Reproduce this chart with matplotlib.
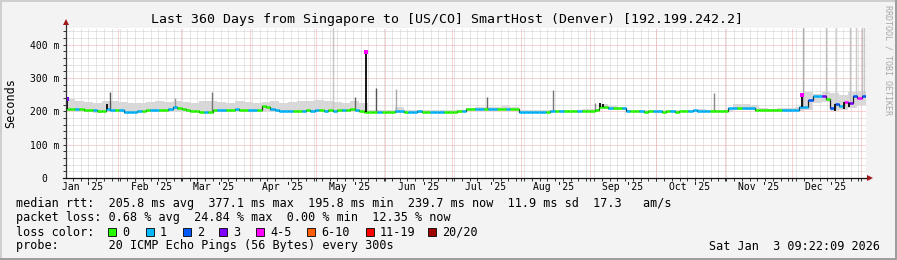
"""
Smokeping style latency chart, Singapore -> Denver, last 360 days
"""
import datetime as dt
import matplotlib
matplotlib.use('Agg')
import matplotlib.pyplot as plt
from matplotlib.patches import Rectangle
import numpy as np

# DATA
#####################
START = dt.datetime(2025, 1, 8, 9, 22, 9)
SPAN_DAYS = 360
MED_STEP = 2      # days per median sample
SMOKE_STEP = 4    # days per smoke sample

# median rtt (ms), one value every 2 days
median_ms = [
    207, 206, 206, 206, 205, 205, 203, 200, 202, 206,
    205, 204, 203, 199, 198, 199, 200, 202, 203, 203,
    204, 204, 205, 208, 212, 210, 206, 205, 201, 200,
    199, 198, 199, 205, 205, 205, 204, 205, 206, 205,
    205, 204, 205, 204, 216, 213, 208, 203, 201, 200,
    200, 200, 201, 202, 203, 201, 203, 205, 201, 203,
    202, 204, 205, 203, 206, 204, 202, 199, 198, 198,
    198, 199, 198, 199, 200, 200, 199, 199, 199, 200,
    199, 199, 198, 199, 199, 198, 199, 199, 200, 201,
    206, 207, 207, 208, 207, 208, 207, 207, 206, 207,
    206, 207, 199, 198, 198, 197, 198, 198, 199, 200,
    200, 201, 200, 201, 200, 200, 201, 200, 201, 203,
    214, 212, 209, 209, 209, 209, 201, 201, 200, 200,
    198, 201, 201, 200, 199, 200, 200, 199, 201, 200,
    201, 203, 200, 200, 200, 200, 201, 200, 200, 209,
    209, 210, 209, 209, 209, 203, 203, 203, 203, 203,
    203, 204, 205, 205, 205, 213, 213, 235, 245, 246,
    245, 238, 210, 222, 215, 228, 226, 246, 240, 247,
]
# loss class index of each median sample (index into loss_labels)
median_loss = [
    0, 0, 1, 0, 0, 0, 1, 0, 0, 1,
    1, 0, 1, 1, 1, 1, 1, 0, 0, 1,
    1, 0, 0, 1, 1, 0, 0, 0, 0, 0,
    0, 1, 0, 0, 1, 1, 0, 0, 1, 0,
    0, 1, 1, 0, 0, 0, 1, 1, 1, 1,
    1, 0, 0, 1, 0, 1, 1, 0, 1, 0,
    1, 0, 1, 0, 0, 1, 0, 0, 0, 0,
    1, 0, 0, 0, 1, 1, 0, 1, 1, 1,
    0, 0, 1, 1, 1, 0, 0, 0, 0, 1,
    0, 0, 1, 1, 0, 1, 1, 0, 0, 1,
    0, 0, 1, 1, 1, 1, 1, 1, 0, 1,
    0, 1, 0, 0, 0, 1, 0, 0, 0, 0,
    0, 0, 1, 0, 0, 1, 1, 0, 0, 1,
    0, 0, 1, 1, 0, 0, 1, 0, 0, 0,
    1, 1, 1, 1, 1, 0, 0, 0, 0, 1,
    1, 0, 1, 1, 1, 0, 0, 0, 0, 0,
    0, 1, 1, 1, 1, 1, 1, 2, 1, 1,
    3, 0, 2, 2, 1, 4, 3, 2, 4, 2,
]

# ping spread ("smoke"), one value every 4 days
smoke_hi_ms = [
    238, 230, 228, 225, 232, 230, 228, 226, 225, 228,
    230, 227, 230, 228, 226, 230, 232, 228, 226, 230,
    228, 225, 228, 230, 226, 228, 232, 230, 234, 230,
    228, 226, 232, 224, 203, 203, 205, 212, 204, 203,
    204, 203, 204, 203, 204, 210, 212, 213, 212, 215,
    212, 205, 203, 203, 204, 205, 204, 205, 206, 208,
    222, 215, 213, 205, 204, 204, 205, 204, 204, 205,
    205, 206, 204, 204, 205, 222, 223, 220, 210, 208,
    209, 210, 212, 258, 252, 258, 255, 250, 258, 262,
]
smoke_lo_ms = [
    200, 199, 198, 196, 197, 198, 199, 198, 198, 199,
    199, 198, 199, 198, 199, 200, 199, 198, 197, 199,
    198, 198, 199, 199, 198, 198, 199, 199, 198, 198,
    199, 198, 198, 197, 196, 196, 196, 196, 196, 196,
    196, 196, 196, 196, 197, 203, 204, 204, 203, 203,
    203, 196, 195, 196, 197, 197, 197, 197, 197, 198,
    206, 205, 205, 197, 197, 197, 196, 197, 197, 197,
    197, 197, 197, 197, 197, 205, 205, 205, 200, 200,
    200, 201, 201, 205, 225, 228, 200, 205, 210, 220,
]

# narrow smoke spikes: day, top (ms), grey shade
spike_day = [19.7, 49.0, 65.6, 120.2, 130.0, 139.5, 148.5, 189.6, 219.3,
             238.2, 291.8, 331.5, 341.8, 346.3, 352.6, 355.3, 358.0, 359.3]
spike_top_ms = [259, 240, 258, 460, 244, 270, 268, 243, 265,
                225, 255, 460, 460, 460, 460, 460, 460, 460]
spike_grey = ['#555555', '#999999', '#777777', '#c4c4c4', '#666666',
              '#555555', '#a8a8a8', '#666666', '#777777', '#888888',
              '#888888', '#b0b0b0', '#c0c0c0', '#d0d0d0', '#c0c0c0',
              '#c8c8c8', '#c0c0c0', '#c8c8c8']

# narrow excursions of the median: day, value (ms), loss class of the cap (-1 = none)
med_spike_day = [0.3, 18.3, 135.0, 240.5, 241.8, 331.0, 346.0, 350.0, 352.5]
med_spike_ms = [236, 222, 379, 226, 222, 250, 200, 207, 212]
med_spike_loss = [3, -1, 4, -1, -1, 4, -1, -1, -1]

loss_labels = ['0', '1', '2', '3', '4-5', '6-10', '11-19', '20/20']
loss_colors = ['#26ff00', '#00b8ff', '#0059ff', '#7e00ff',
               '#ff00ff', '#ff5e00', '#ff0000', '#a10000']

month_labels = ["Jan '25", "Feb '25", "Mar '25", "Apr '25", "May '25", "Jun '25",
                "Jul '25", "Aug '25", "Sep '25", "Oct '25", "Nov '25", "Dec '25"]

y_ticks = [0, 100, 200, 300, 400]
y_tick_labels = ['0  ', '100 m', '200 m', '300 m', '400 m']

title = "Last 360 Days from Singapore to [US/CO] SmartHost (Denver) [192.199.242.2]"
stats_rtt = ("median rtt:  205.8 ms avg  377.1 ms max  195.8 ms min  "
             "239.7 ms now  11.9 ms sd  17.3   am/s")
stats_loss = "packet loss: 0.68 % avg  24.84 % max  0.00 % min  12.35 % now"
probe_text = "probe:       20 ICMP Echo Pings (56 Bytes) every 300s"
stamp_text = "Sat Jan  3 09:22:09 2026"


def days(t):
    return (t - START).total_seconds() / 86400.0


# FIGURE
#####################
W, H = 897, 260
MONO = 'DejaVu Sans Mono'
plt.rcParams.update({'font.family': MONO})

fig = plt.figure(figsize=(W / 100, H / 100), dpi=100, facecolor='#f3f3f3')


def fx(x):
    return x / W


def fy(y):
    return 1 - y / H


ax = fig.add_axes([fx(66), fy(178), 800 / W, 150 / H])
ax.set_facecolor('white')
ax.set_xlim(0, SPAN_DAYS)
ax.set_ylim(0, 450)
for s in ax.spines.values():
    s.set_visible(False)

# grid
minor_col, major_col = '#cccccc', '#f4a8a8'
dots = (0, (1, 1))
for y in range(20, 450, 20):
    ax.axhline(y, color=major_col if y % 100 == 0 else minor_col,
               lw=0.72, ls=dots, zorder=1)
grid_days = []
d = days(dt.datetime(2025, 1, 8))
while d < SPAN_DAYS:
    if d > 0:
        grid_days.append(d)
        ax.axvline(d, color=minor_col, lw=0.72, ls=dots, zorder=1)
    d += 3.5
month_days = [days(dt.datetime(2025, m, 1)) for m in range(2, 13)]
month_days.append(days(dt.datetime(2026, 1, 1)))
for d in month_days:
    ax.axvline(d, color=major_col, lw=0.72, ls=dots, zorder=1)

# smoke
hi = np.array(smoke_hi_ms, float)
lo = np.array(smoke_lo_ms, float)
xs = np.arange(len(hi)) * SMOKE_STEP
ax.fill_between(np.append(xs, SPAN_DAYS), np.append(lo, lo[-1]), np.append(hi, hi[-1]),
                step='post', color='#d8d8d8', lw=0, zorder=2)

med = np.array(median_ms, float)
xl = np.arange(len(med)) * MED_STEP


def med_at(day):
    return med[min(int(day // MED_STEP), len(med) - 1)]


ax.vlines(spike_day, [med_at(d) for d in spike_day], spike_top_ms,
          colors=spike_grey, lw=1.0, zorder=3)

# median line: dark step underneath, loss coloured segments on top
ax.step(np.append(xl, SPAN_DAYS), np.append(med, med[-1]), where='post',
        color='#1a1a1a', lw=0.9, zorder=4)
ax.hlines(med, xl, xl + MED_STEP, colors=[loss_colors[c] for c in median_loss],
          lw=1.8, zorder=5)
ax.vlines(med_spike_day, [med_at(d) for d in med_spike_day], med_spike_ms,
          colors='#151515', lw=1.4, zorder=6)
for d, v, c in zip(med_spike_day, med_spike_ms, med_spike_loss):
    if c >= 0:
        ax.plot(d, v, marker='s', ms=2.2, mew=0, color=loss_colors[c], zorder=7)

# ticks
ax.set_yticks(y_ticks, y_tick_labels)
ax.set_yticks(range(20, 450, 20), minor=True)
ax.tick_params(axis='y', which='both', length=2, width=0.7, direction='out',
               pad=2.9, labelsize=7, color='#333333')
label_days = [days(dt.datetime(2025, m, 16)) for m in range(1, 13)]
ax.set_xticks(label_days, month_labels)
ax.set_xticks(grid_days + month_days, minor=True)
ax.tick_params(axis='x', which='major', length=0, pad=3.0, labelsize=7)
ax.tick_params(axis='x', which='minor', length=2, width=0.7, direction='out',
               color='#333333')

# axes with arrows
ax.plot([0, 0], [0, 1 + 5 / 150], transform=ax.transAxes, color='#333333',
        lw=0.9, clip_on=False, zorder=8)
ax.plot([-3 / 800, 1 + 3 / 800], [0, 0], transform=ax.transAxes, color='#111111',
        lw=0.9, clip_on=False, zorder=8)
ax.plot(0, 1 + 6 / 150, transform=ax.transAxes, marker='^', ms=4.5, mew=0,
        color='#a01818', clip_on=False, zorder=9)
ax.plot(1 + 4 / 800, 0, transform=ax.transAxes, marker='>', ms=4.5, mew=0,
        color='#a01818', clip_on=False, zorder=9)

# texts
fig.text(fx(447), fy(19), title, ha='center', va='center', fontsize=9.5)
fig.text(fx(11), fy(103), 'Seconds', rotation=90, ha='center', va='center',
         fontsize=8.5)
fig.text(fx(888), fy(5), 'RRDTOOL / TOBI OETIKER', rotation=270, ha='center',
         va='top', fontsize=6, color='#a8a8a8')

fig.text(fx(16), fy(204), stats_rtt, va='center', fontsize=8.5)
fig.text(fx(16), fy(218), stats_loss, va='center', fontsize=8.5)
fig.text(fx(16), fy(232), 'loss color:', va='center', fontsize=8.5)
for x, lab, c in zip([108, 146, 183, 219, 256, 307, 366, 428], loss_labels, loss_colors):
    fig.add_artist(Rectangle((fx(x), fy(236)), 8 / W, 8 / H, transform=fig.transFigure,
                             facecolor=c, edgecolor='black', lw=0.6))
    fig.text(fx(x + 14), fy(232), lab, va='center', fontsize=8.5)
fig.text(fx(16), fy(246), probe_text, va='center', fontsize=8.5)
fig.text(fx(880), fy(246), stamp_text, ha='right', va='center', fontsize=8.5)

# 3d frame
fig.add_artist(Rectangle((0, fy(2)), 1, 2 / H, transform=fig.transFigure,
                         color='#cfcfcf', lw=0))
fig.add_artist(Rectangle((0, 0), 2 / W, 1, transform=fig.transFigure,
                         color='#cfcfcf', lw=0))
fig.add_artist(Rectangle((0, 0), 1, 2 / H, transform=fig.transFigure,
                         color='#9e9e9e', lw=0))
fig.add_artist(Rectangle((fx(W - 2), 0), 2 / W, 1, transform=fig.transFigure,
                         color='#9e9e9e', lw=0))

fig.savefig('out.png', dpi=100, facecolor=fig.get_facecolor())
